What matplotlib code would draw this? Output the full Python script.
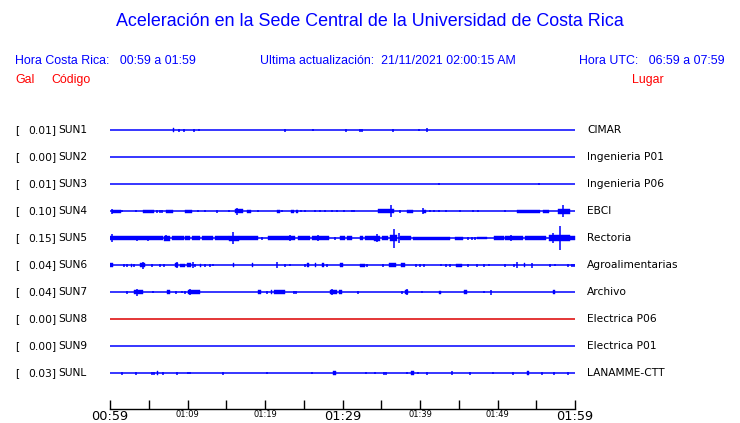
import matplotlib
matplotlib.use('Agg')
from matplotlib import pyplot as plt
from matplotlib.transforms import blended_transform_factory

# station list, peak acceleration (gal) and location
codes = ['SUN1', 'SUN2', 'SUN3', 'SUN4', 'SUN5', 'SUN6', 'SUN7', 'SUN8', 'SUN9', 'SUNL']
peaks = ['0.01', '0.00', '0.01', '0.10', '0.15', '0.04', '0.04', '0.00', '0.00', '0.03']
places = ['CIMAR', 'Ingenieria P01', 'Ingenieria P06', 'EBCI', 'Rectoria',
          'Agroalimentarias', 'Archivo', 'Electrica P06', 'Electrica P01', 'LANAMME-CTT']
active = [True, True, True, True, True, True, True, False, True, True]  # SUN8 drawn red

tick_min = list(range(0, 61, 5))
tick_lab = ['00:59', '', '01:09', '', '01:19', '', '01:29', '', '01:39', '', '01:49', '', '01:59']

# bursts: (start min, end min, half deflection) -- minutes after 00:59
sun1 = [(8.1, 8.3, 2), (8.9, 8.9, 1.5), (9.5, 9.5, 1.5), (10.9, 10.9, 1.5), (11.5, 11.5, 1),
        (22.6, 22.6, 1.5), (26.2, 26.2, 1), (30.4, 30.4, 1.5), (32.2, 32.2, 1.5), (32.5, 32.5, 1.5),
        (36.5, 36.5, 1.5), (39.9, 39.9, 1), (40.9, 40.9, 2)]
sun2 = []
sun3 = [(42.4, 42.4, 1), (55.4, 55.4, 1)]
sun4 = [(0.3, 1.4, 1.5), (0.3, 0.3, 2.5), (1.6, 1.6, 1), (3.3, 3.3, 1), (4.2, 5.7, 1.5), (6.1, 6.1, 1.5),
        (6.5, 6.5, 1.5), (6.7, 6.7, 1.5), (7.2, 8.1, 1.5), (9.7, 10.6, 1.5), (11.4, 11.4, 1), (12.3, 12.3, 1),
        (13.8, 13.8, 1.5), (15.3, 15.3, 1), (16.1, 17.1, 2), (16.4, 16.4, 3.5), (17.7, 18.2, 1.5),
        (19.1, 19.1, 1), (21.5, 21.9, 1.5), (22.2, 22.2, 1), (23.3, 23.7, 1.5), (24.0, 24.2, 1.5),
        (24.6, 24.6, 1), (25.2, 25.2, 1), (26.5, 26.5, 1), (27.1, 27.1, 1), (27.7, 27.7, 1), (28.6, 28.6, 1),
        (29.3, 29.3, 1), (30.2, 30.2, 1), (31.2, 31.2, 1), (31.5, 31.5, 1), (34.6, 36.6, 1.7), (36.3, 36.3, 6.3),
        (37.4, 37.4, 1.5), (38.3, 39.1, 1.5), (40.4, 40.8, 1.5), (40.4, 40.4, 3), (41.3, 41.3, 1),
        (41.8, 41.8, 1), (42.5, 42.5, 1), (43.4, 43.4, 1), (45.2, 45.2, 1), (46.9, 46.9, 1), (47.5, 47.5, 1),
        (51.0, 51.0, 1), (52.5, 55.5, 1.5), (55.9, 56.6, 1.5), (57.8, 59.3, 2.5), (58.4, 58.4, 6.3)]
sun5 = [(0, 6.9, 1.8), (0.3, 0.3, 3.7), (3.5, 3.5, 2.5), (4.9, 4.9, 2.5), (7.0, 7.7, 2.5), (7.2, 7.2, 3),
        (8.0, 9.5, 1.8), (9.7, 10.3, 1.8), (10.6, 11.6, 1.8), (11.9, 13.3, 1.8), (13.5, 15.3, 1.8),
        (15.4, 16.6, 2.5), (15.9, 15.9, 5.8), (16.6, 19.1, 1.8), (19.6, 19.6, 1.5), (20.4, 23.9, 1.8),
        (23.2, 23.2, 3), (24.3, 25.8, 1.8), (26.0, 28.2, 1.8), (26.8, 26.8, 3), (29.0, 29.0, 1.5),
        (29.7, 30.3, 1.8), (30.6, 31.2, 1.8), (32.2, 32.7, 1.8), (32.9, 34.0, 1.8), (34.0, 34.8, 2.5),
        (34.4, 34.4, 4), (35.1, 35.9, 1.8), (36.1, 37.0, 3), (36.6, 36.6, 9.5), (37.3, 37.3, 5),
        (37.4, 38.9, 2), (39.1, 43.9, 1.5), (44.5, 45.6, 1.5), (46.2, 46.2, 1.5), (46.7, 46.7, 1.5),
        (47.1, 47.1, 1.5), (47.3, 48.6, 1.2), (49.5, 50.8, 1.8), (51.0, 53.3, 2), (51.8, 51.8, 3),
        (53.5, 56.3, 1.8), (56.6, 59.4, 3), (57.1, 57.1, 5), (58.1, 58.1, 12), (59.4, 60, 1.8)]
sun6 = [(0, 0.4, 2), (1.8, 1.8, 1.5), (2.2, 2.2, 1.5), (2.7, 2.9, 1.5), (3.1, 3.1, 1.5), (3.9, 4.5, 2),
        (4.2, 4.2, 3.5), (5.4, 5.4, 1.5), (6.5, 6.5, 1.5), (7.0, 7.0, 1.5), (8.4, 8.8, 2), (8.7, 8.7, 3),
        (9.0, 9.7, 1.5), (9.9, 10.5, 2), (10.7, 10.7, 3), (11.0, 11.0, 1.5), (11.6, 11.8, 1.5),
        (12.3, 12.3, 1.5), (12.9, 12.9, 1.5), (13.3, 13.3, 1), (15.9, 16.0, 2), (18.3, 18.5, 2),
        (21.6, 21.6, 3), (22.6, 22.6, 1.5), (23.2, 23.2, 1), (25.1, 25.1, 1.5), (25.4, 25.7, 2),
        (26.4, 26.6, 2), (27.3, 27.6, 2), (28.0, 28.0, 1.5), (29.7, 30.1, 2), (32.3, 32.9, 1.5),
        (33.1, 33.1, 1.5), (35.2, 35.2, 1.5), (36.0, 36.9, 2), (37.6, 38.0, 2), (39.5, 39.5, 1.5),
        (40.0, 40.0, 1.5), (40.5, 40.5, 1.5), (42.7, 42.7, 1), (43.4, 43.4, 1.5), (43.9, 43.9, 1.5),
        (44.7, 45.4, 1.5), (46.2, 46.2, 1.5), (47.4, 47.4, 1.5), (48.2, 48.2, 1.5), (48.9, 48.9, 1),
        (51.0, 51.0, 1.5), (52.1, 52.1, 1.5), (52.5, 52.5, 3), (53.4, 53.5, 2), (54.5, 54.5, 2.5),
        (56.8, 56.8, 1.5), (57.4, 57.4, 1), (59.1, 59.1, 1.5), (59.6, 59.6, 1.5), (59.9, 59.9, 1.5)]
sun7 = [(2.2, 2.2, 1.5), (3.1, 4.3, 2), (3.5, 3.5, 3.5), (5.5, 5.5, 1), (7.4, 7.7, 2), (8.5, 8.5, 1.5),
        (9.3, 9.3, 1), (9.7, 9.7, 1.5), (10.1, 11.6, 2), (10.3, 10.3, 3), (19.1, 19.5, 2), (20.2, 20.2, 1.5),
        (20.8, 20.9, 2), (21.2, 22.6, 2), (23.7, 23.7, 1.5), (24.0, 24.0, 1.5), (28.4, 29.3, 2),
        (28.7, 28.7, 3), (29.5, 29.9, 2), (32.0, 32.0, 1.5), (37.7, 37.7, 1.5), (38.1, 38.5, 2),
        (38.3, 38.3, 3), (40.3, 40.3, 1), (42.4, 42.7, 1.5), (45.7, 46.0, 2), (48.3, 48.3, 1),
        (49.1, 49.1, 2.5), (57.1, 57.4, 2)]
sun8 = []
sun9 = []
sunl = [(1.5, 1.5, 1.5), (3.3, 3.3, 1.5), (5.4, 5.4, 1.5), (5.7, 5.7, 1.5), (6.0, 6.2, 2), (6.9, 6.9, 1.5),
        (8.6, 8.6, 1.5), (10.1, 10.1, 1), (10.3, 10.3, 1), (14.6, 14.6, 1.5), (20.2, 20.2, 1),
        (26.1, 26.1, 1), (28.8, 29.1, 2), (33.0, 33.0, 1), (34.2, 34.2, 1), (35.3, 35.3, 1.5),
        (35.6, 35.6, 1.5), (38.3, 38.3, 1), (38.8, 39.2, 2), (39.7, 39.7, 1), (40.9, 40.9, 1.5),
        (44.1, 44.1, 2), (46.4, 46.4, 1.5), (49.4, 49.4, 1), (52.0, 52.0, 1.5), (53.8, 54.1, 2),
        (55.8, 55.8, 1.5), (57.3, 57.3, 1.5), (59.1, 59.1, 1.5)]
bursts = [sun1, sun2, sun3, sun4, sun5, sun6, sun7, sun8, sun9, sunl]

BLUE = '#0000ff'
RED = '#ff0000'
SLOT = 27.0  # deflection units per trace slot

fig = plt.figure(figsize=(7.4, 4.23), dpi=100)
W, H = 740.0, 423.0
ax = fig.add_axes([110 / W, 1 - 409 / H, 465 / W, 294 / H])
ax.set_xlim(0, 60)
ax.set_ylim(10.333, -0.556)

for i, ev in enumerate(bursts):
    col = BLUE if active[i] else '#dd0000'
    ax.hlines(i, 0, 60, color=col, lw=1.1)
    for t0, t1, a in ev:
        d = a / SLOT
        if t1 > t0:
            ax.fill_between([t0, t1], i - d, i + d, color=col, lw=0.3)
        else:
            ax.vlines(t0, i - d, i + d, color=col, lw=1.1)

for s in ['top', 'left', 'right']:
    ax.spines[s].set_visible(False)
ax.spines['bottom'].set_linewidth(1.0)
ax.set_yticks([])
ax.set_xticks(tick_min)
ax.set_xticklabels(tick_lab)
ax.tick_params(axis='x', direction='in', length=6.5, width=1.0, pad=1)
for lab in ax.get_xticklabels():
    if lab.get_text() in ('00:59', '01:29', '01:59'):
        lab.set_fontsize(9.3)
    else:
        lab.set_fontsize(6)

# station labels
tr = blended_transform_factory(fig.transFigure, ax.transData)
for i in range(len(codes)):
    ax.text(15 / W, i, '[', transform=tr, ha='left', va='center', fontsize=7.7, clip_on=False)
    ax.text(56 / W, i, peaks[i] + ']', transform=tr, ha='right', va='center', fontsize=7.7, clip_on=False)
    ax.text(58 / W, i, codes[i], transform=tr, ha='left', va='center', fontsize=7.7, clip_on=False)
    ax.text(587 / W, i, places[i], transform=tr, ha='left', va='center', fontsize=7.7, clip_on=False)

# header
hf = 'Liberation Sans'
fig.text(0.5, 1 - 22 / H, 'Aceleración en la Sede Central de la Universidad de Costa Rica',
         ha='center', va='center', color=BLUE, fontsize=12.9, family=hf)
fig.text(15 / W, 1 - 61 / H, 'Hora Costa Rica:   00:59 a 01:59', ha='left', va='center',
         color=BLUE, fontsize=8.9, family=hf)
fig.text(260 / W, 1 - 61 / H, 'Ultima actualización:  21/11/2021 02:00:15 AM', ha='left', va='center',
         color=BLUE, fontsize=8.9, family=hf)
fig.text(725 / W, 1 - 61 / H, 'Hora UTC:   06:59 a 07:59', ha='right', va='center',
         color=BLUE, fontsize=8.9, family=hf)
fig.text(15 / W, 1 - 80 / H, 'Gal', ha='left', va='center', color=RED, fontsize=8.9, family=hf)
fig.text(51 / W, 1 - 80 / H, 'Código', ha='left', va='center', color=RED, fontsize=8.9, family=hf)
fig.text(664 / W, 1 - 80 / H, 'Lugar', ha='right', va='center', color=RED, fontsize=8.9, family=hf)

fig.savefig('out.png', dpi=100)
